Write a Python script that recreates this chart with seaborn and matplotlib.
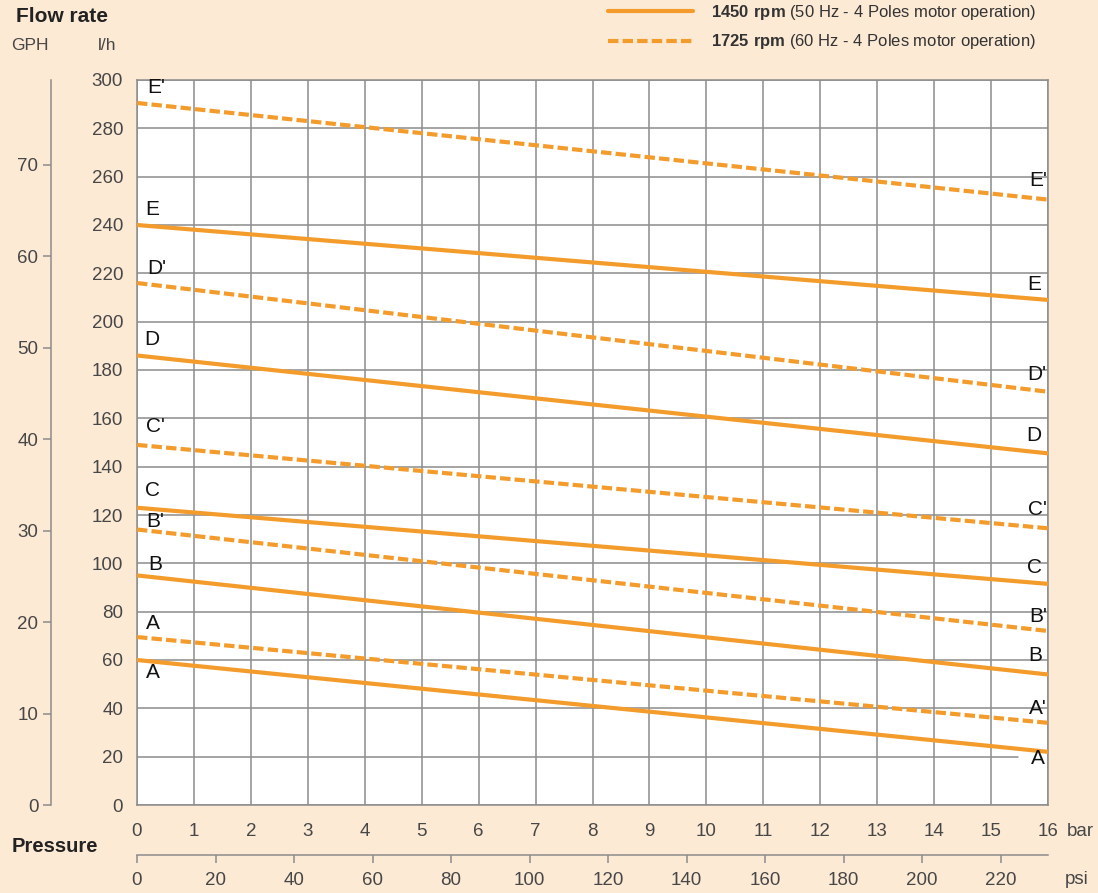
import numpy as np
import pandas as pd
import matplotlib
matplotlib.use("Agg")
import matplotlib.pyplot as plt
import seaborn as sns

# ---------------- data ----------------
pressure_bar = [0, 16]
flow_A = [60, 22]
flow_A2 = [69.5, 34]
flow_B = [95, 54]
flow_B2 = [114, 72]
flow_C = [123, 91.5]
flow_C2 = [149, 114.5]
flow_D = [186, 145.5]
flow_D2 = [216, 171]
flow_E = [240, 209]
flow_E2 = [290.5, 250.5]

curve_names = ["A", "A'", "B", "B'", "C", "C'", "D", "D'", "E", "E'"]
curve_values = [flow_A, flow_A2, flow_B, flow_B2, flow_C, flow_C2,
                flow_D, flow_D2, flow_E, flow_E2]
curve_speed = ["1450", "1725"] * 5

left_labels = ["E'", "E", "D'", "D", "C'", "C", "B'", "B", "A", "A"]
left_label_x = [0.33, 0.26, 0.35, 0.26, 0.32, 0.28, 0.32, 0.32, 0.28, 0.28]
left_label_y = [296.7, 246.6, 222.2, 192.8, 156.8, 130.3, 117.5, 99.7, 74.9, 55.0]
right_labels = ["E'", "E", "D'", "D", "C'", "C", "B'", "B", "A'", "A"]
right_label_x = [15.82, 15.75, 15.81, 15.75, 15.81, 15.77, 15.82, 15.77, 15.82, 15.82]
right_label_y = [258.6, 215.2, 178.3, 152.7, 122.1, 98.1, 77.8, 61.7, 40.1, 19.4]

bar_ticks = list(range(0, 17))
lh_ticks = list(range(0, 301, 20))
gph_ticks = list(range(0, 71, 10))
psi_ticks = list(range(0, 221, 20))

legend_labels = [r"$\bf{1450\ rpm}$ (50 Hz - 4 Poles motor operation)",
                 r"$\bf{1725\ rpm}$ (60 Hz - 4 Poles motor operation)"]

rows = []
for name, vals, spd in zip(curve_names, curve_values, curve_speed):
    for p, v in zip(pressure_bar, vals):
        rows.append({"curve": name, "speed": spd, "bar": p, "lh": v})
df = pd.DataFrame(rows)

# ---------------- style ----------------
BG = "#FCEAD5"
ORANGE = "#F39C2C"
GRID = "#8C8C8C"
TXT = "#474747"

sns.set_style("white")
plt.rcParams["font.family"] = ["Liberation Sans", "DejaVu Sans"]
plt.rcParams["mathtext.fontset"] = "custom"
plt.rcParams["mathtext.bf"] = "Liberation Sans:bold"
plt.rcParams["mathtext.rm"] = "Liberation Sans"

fig = plt.figure(figsize=(10.98, 8.93), dpi=100, facecolor=BG)
W, H = 1098, 893
x0, x1, y0, y1 = 137, 1048, 80, 805
ax = fig.add_axes([x0 / W, (H - y1) / H, (x1 - x0) / W, (y1 - y0) / H])
ax.set_facecolor("white")

# grid lines
for xv in bar_ticks:
    ax.axvline(xv, color=GRID, lw=1.1, zorder=1)
for yv in lh_ticks:
    xmax = (1018 - x0) / (x1 - x0) if yv == 20 else 1
    ax.axhline(yv, xmin=0, xmax=xmax, color=GRID, lw=1.1, zorder=1)

# curves
for name, spd in zip(curve_names, curve_speed):
    sub = df[df["curve"] == name]
    sns.lineplot(data=sub, x="bar", y="lh", ax=ax, color=ORANGE, lw=3.0,
                 linestyle="-" if spd == "1450" else (0, (2.5, 1.0)),
                 zorder=3, legend=False)

ax.set_xlim(0, 16)
ax.set_ylim(0, 300)
ax.set_xticks(bar_ticks)
ax.set_yticks(lh_ticks)
ax.set_xlabel("")
ax.set_ylabel("")
for s in ax.spines.values():
    s.set_color(GRID)
    s.set_linewidth(1.1)
ax.tick_params(axis="both", which="major", length=7, width=1.1, color=GRID,
               labelcolor=TXT, labelsize=13.5, direction="out")
ax.tick_params(axis="x", pad=6)
ax.tick_params(axis="y", pad=3)

# curve labels
for t, xv, yv in zip(left_labels, left_label_x, left_label_y):
    ax.text(xv, yv, t, ha="center", va="center", fontsize=15, color="#111111", zorder=5)
for t, xv, yv in zip(right_labels, right_label_x, right_label_y):
    ax.text(xv, yv, t, ha="center", va="center", fontsize=15, color="#111111", zorder=5)

# secondary GPH axis
LPG = 3.785411784
gax = ax.secondary_yaxis(-(x0 - 51) / (x1 - x0), functions=(lambda v: v / LPG, lambda v: v * LPG))
gax.set_yticks(gph_ticks)
gax.spines["left"].set_color(GRID)
gax.spines["left"].set_linewidth(1.1)
gax.tick_params(axis="y", length=6, width=1.1, color=GRID, labelcolor=TXT, labelsize=13.5, pad=3)

# secondary psi axis
PSI = 14.5037738
pax = ax.secondary_xaxis(-(855 - y1) / (y1 - y0), functions=(lambda v: v * PSI, lambda v: v / PSI))
pax.set_xticks(psi_ticks)
pax.spines["bottom"].set_color(GRID)
pax.spines["bottom"].set_linewidth(1.1)
pax.tick_params(axis="x", length=6, width=1.1, color=GRID, labelcolor=TXT, labelsize=13.5, pad=6)

# axis texts
fig.text(62 / W, 1 - 17 / H, "Flow rate", ha="center", va="center", fontsize=15,
         fontweight="bold", color="#222222")
fig.text(30 / W, 1 - 45 / H, "GPH", ha="center", va="center", fontsize=12.5, color=TXT)
fig.text(107 / W, 1 - 45 / H, "l/h", ha="center", va="center", fontsize=12.5, color=TXT)
fig.text(55 / W, 1 - 846 / H, "Pressure", ha="center", va="center", fontsize=14.5,
         fontweight="bold", color="#222222")
fig.text(1080 / W, 1 - 832 / H, "bar", ha="center", va="center", fontsize=13.5, color=TXT)
fig.text(1077 / W, 1 - 880 / H, "psi", ha="center", va="center", fontsize=13.5, color=TXT)

# legend
from matplotlib.lines import Line2D
handles = [Line2D([], [], color=ORANGE, lw=3.0, linestyle="-"),
           Line2D([], [], color=ORANGE, lw=3.0, linestyle=(0, (2.5, 1.0)))]
leg = fig.legend(handles, legend_labels, loc="upper left",
                 bbox_to_anchor=(605 / W, 1 - 0 / H), frameon=False, fontsize=12,
                 handlelength=5.1, handletextpad=1.1, labelspacing=0.65,
                 borderaxespad=0.0, borderpad=0.15)
for t in leg.get_texts():
    t.set_color("#333333")

fig.savefig("out.png", dpi=100, facecolor=BG)
